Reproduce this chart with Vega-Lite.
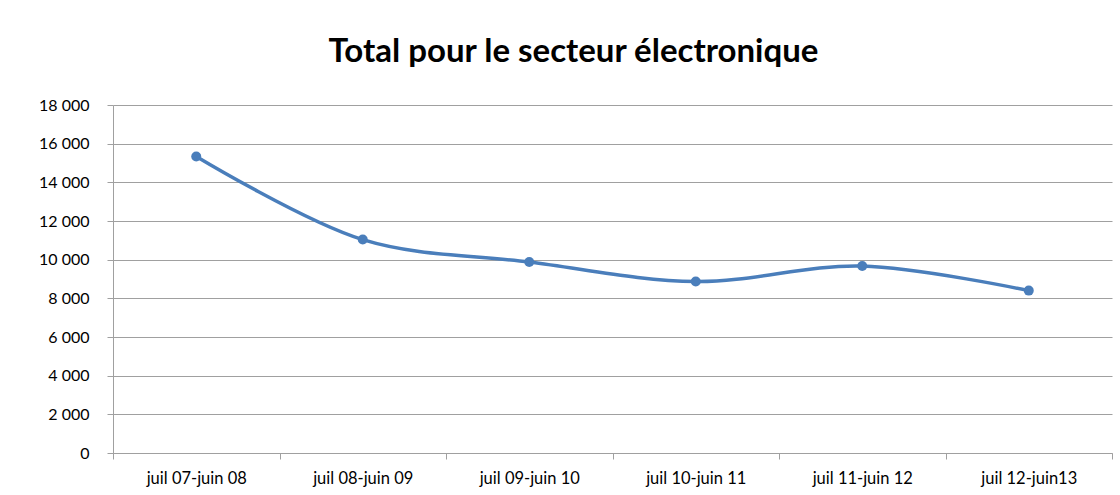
{
  "$schema": "https://vega.github.io/schema/vega-lite/v6.json",
  "width": 999,
  "height": 348,
  "autosize": {"type": "none"},
  "padding": {"left": 113, "top": 105, "right": 8, "bottom": 42},
  "background": "white",
  "config": {
    "view": {"stroke": null},
    "locale": {"number": {"decimal": ",", "thousands": " ", "grouping": [3], "currency": ["", " €"]}},
    "font": "Lato"
  },
  "title": {
    "text": "Total pour le secteur électronique",
    "font": "Lato",
    "fontSize": 33,
    "fontWeight": "bold",
    "color": "#000000",
    "anchor": "middle",
    "dx": -39,
    "offset": 28
  },
  "data": {
    "values": [
      {"periode": "juil 07-juin 08", "total": 15340},
      {"periode": "juil 08-juin 09", "total": 11040},
      {"periode": "juil 09-juin 10", "total": 9880},
      {"periode": "juil 10-juin 11", "total": 8870},
      {"periode": "juil 11-juin 12", "total": 9670},
      {"periode": "juil 12-juin13", "total": 8400}
    ]
  },
  "encoding": {
    "x": {
      "field": "periode",
      "type": "nominal",
      "sort": null,
      "scale": {"type": "band", "paddingInner": 0, "paddingOuter": 0},
      "axis": {
        "title": null,
        "labelAngle": 0,
        "tickBand": "extent",
        "grid": false,
        "domainColor": "#a0a0a0",
        "tickColor": "#a0a0a0",
        "tickSize": 6,
        "labelPadding": 11,
        "labelFont": "Lato",
        "labelFontSize": 16.5,
        "labelColor": "#000000"
      }
    },
    "y": {
      "field": "total",
      "type": "quantitative",
      "scale": {"domain": [0, 18000]},
      "axis": {
        "title": null,
        "values": [0, 2000, 4000, 6000, 8000, 10000, 12000, 14000, 16000, 18000],
        "format": ",d",
        "grid": true,
        "gridColor": "#a0a0a0",
        "domainColor": "#a0a0a0",
        "tickColor": "#a0a0a0",
        "tickSize": 6,
        "labelPadding": 18,
        "labelFont": "Lato",
        "labelFontSize": 16,
        "labelColor": "#000000"
      }
    }
  },
  "layer": [
    {"mark": {"type": "line", "interpolate": "catmull-rom", "color": "#4a7ebb", "strokeWidth": 3.5}},
    {"mark": {"type": "point", "filled": true, "color": "#4a7ebb", "size": 100, "opacity": 1}}
  ]
}
